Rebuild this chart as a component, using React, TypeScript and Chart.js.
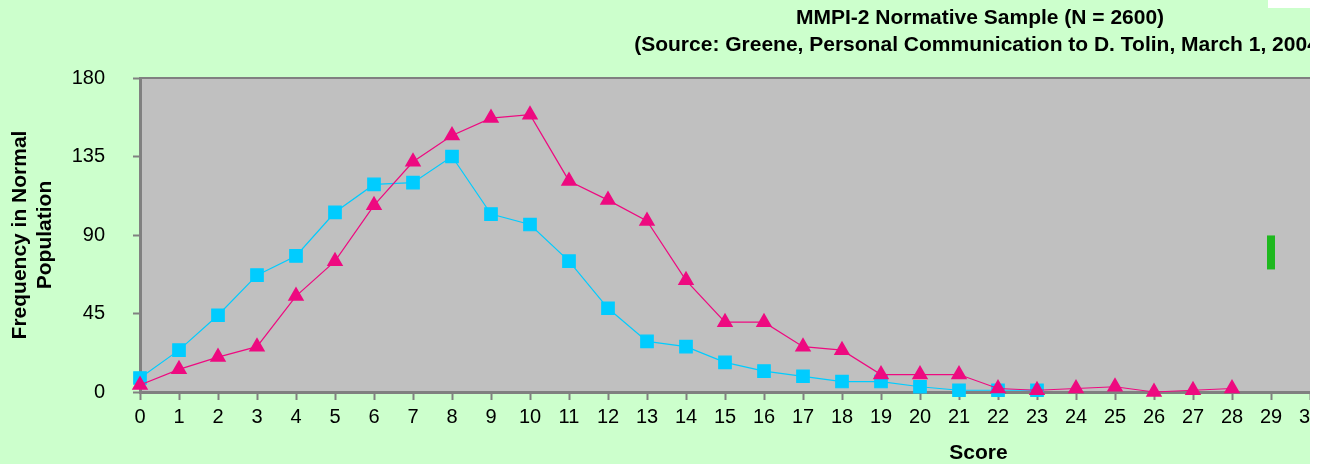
import React, { useEffect, useRef } from "react";
import { Chart, registerables } from "chart.js";

Chart.register(...registerables);

// ---- Data ----
const MEN_SCORES = [0, 1, 2, 3, 4, 5, 6, 7, 8, 9, 10, 11, 12, 13, 14, 15, 16, 17, 18, 19, 20, 21, 22, 23];
const MEN_FREQ = [8, 24, 44, 67, 78, 103, 119, 120, 135, 102, 96, 75, 48, 29, 26, 17, 12, 9, 6, 6, 3, 1, 1, 1];

const WOMEN_SCORES = [0, 1, 2, 3, 4, 5, 6, 7, 8, 9, 10, 11, 12, 13, 14, 15, 16, 17, 18, 19, 20, 21, 22, 23, 24, 25, 26, 27, 28];
const WOMEN_FREQ = [4, 13, 20, 26, 55, 75, 107, 132, 147, 157, 159, 121, 110, 98, 64, 40, 40, 26, 24, 10, 10, 10, 2, 1, 2, 3, 0, 1, 2];

const MARKER_SCORES = [29];
const MARKER_VALUES = [80];

const TITLE_LINES = [
  "MMPI-2 Normative Sample (N = 2600)",
  "(Source: Greene, Personal Communication to D. Tolin, March 1, 2004)",
];
const Y_TITLE = ["Frequency in Normal", "Population"];
const X_TITLE = "Score";

const X_MIN = 0;
const X_MAX = 43;
const Y_MIN = 0;
const Y_MAX = 180;
const Y_STEP = 45;

const FONT = "'Liberation Sans', Arial, Helvetica, sans-serif";
const AXIS_GRAY = "#808080";

const plotBackground = {
  id: "plotBackground",
  beforeDraw(chart: any) {
    const { ctx, chartArea: a } = chart;
    ctx.save();
    ctx.fillStyle = "#C0C0C0";
    ctx.fillRect(a.left, a.top, a.right - a.left, a.bottom - a.top);
    ctx.restore();
  },
  beforeDatasetsDraw(chart: any) {
    const { ctx, chartArea: a } = chart;
    ctx.save();
    ctx.strokeStyle = AXIS_GRAY;
    ctx.lineWidth = 2;
    ctx.beginPath();
    ctx.moveTo(a.left, a.top);
    ctx.lineTo(a.right, a.top);
    ctx.stroke();
    ctx.restore();
  },
};

export default function App() {
  const canvasRef = useRef<HTMLCanvasElement | null>(null);

  useEffect(() => {
    const canvas = canvasRef.current;
    if (!canvas) return;

    const men = MEN_SCORES.map((s, i) => ({ x: s, y: MEN_FREQ[i] }));
    const women = WOMEN_SCORES.map((s, i) => ({ x: s, y: WOMEN_FREQ[i] }));
    const marker = MARKER_SCORES.map((s, i) => ({ x: s, y: MARKER_VALUES[i] }));

    const chart = new Chart(canvas, {
      type: "line",
      data: {
        datasets: [
          {
            label: "Women",
            data: women,
            borderColor: "#EE0A80",
            backgroundColor: "#EE0A80",
            borderWidth: 1.2,
            pointStyle: "triangle",
            pointRadius: 7.5,
            pointBorderWidth: 2,
            pointBorderColor: "#EE0A80",
            pointBackgroundColor: "#EE0A80",
            tension: 0,
            clip: false as any,
          },
          {
            label: "Men",
            data: men,
            borderColor: "#00CCFF",
            backgroundColor: "#00CCFF",
            borderWidth: 1.2,
            pointStyle: "rect",
            pointRadius: 8.8,
            pointBorderWidth: 1.2,
            pointBorderColor: "#00CCFF",
            pointBackgroundColor: "#00CCFF",
            tension: 0,
            clip: false as any,
          },
          {
            label: "Marker",
            data: marker,
            showLine: false,
            borderColor: "#1EB81E",
            backgroundColor: "#1EB81E",
            pointStyle: "line",
            pointRotation: 90,
            pointRadius: 17,
            pointBorderWidth: 8,
            pointBorderColor: "#1EB81E",
            clip: false as any,
          },
        ],
      },
      options: {
        responsive: false,
        animation: false,
        devicePixelRatio: 1,
        layout: { padding: 0 },
        plugins: {
          legend: { display: false },
          tooltip: { enabled: false },
          title: {
            display: true,
            text: TITLE_LINES,
            color: "#000",
            font: { family: FONT, size: 21, weight: "bold", lineHeight: 27 / 21 },
            padding: { top: 5, bottom: 19 },
          },
        },
        scales: {
          x: {
            type: "linear",
            min: X_MIN,
            max: X_MAX,
            position: "bottom",
            afterFit: (scale: any) => {
              scale.height = 72;
            },
            ticks: {
              stepSize: 1,
              autoSkip: false,
              maxRotation: 0,
              color: "#000",
              padding: 5,
              font: { family: FONT, size: 20 },
            },
            grid: {
              drawOnChartArea: false,
              drawTicks: true,
              tickLength: 8,
              tickColor: AXIS_GRAY,
              tickWidth: 2,
            },
            border: { display: true, color: AXIS_GRAY, width: 3 },
            title: {
              display: true,
              text: X_TITLE,
              color: "#000",
              font: { family: FONT, size: 21, weight: "bold", lineHeight: 1 },
              padding: 0,
            },
          },
          y: {
            type: "linear",
            min: Y_MIN,
            max: Y_MAX,
            position: "left",
            afterFit: (scale: any) => {
              scale.width = 140;
            },
            ticks: {
              stepSize: Y_STEP,
              color: "#000",
              padding: 28,
              font: { family: FONT, size: 20 },
            },
            grid: {
              drawOnChartArea: false,
              drawTicks: true,
              tickLength: 7,
              tickColor: AXIS_GRAY,
              tickWidth: 2,
            },
            border: { display: true, color: AXIS_GRAY, width: 3 },
            title: {
              display: true,
              text: Y_TITLE,
              color: "#000",
              font: { family: FONT, size: 21, weight: "bold", lineHeight: 25 / 21 },
              padding: { top: 8, bottom: 0 },
            },
          },
          yRight: {
            type: "linear",
            position: "right",
            display: true,
            afterFit: (scale: any) => {
              scale.width = 143;
            },
            ticks: { display: false },
            grid: { display: false, drawTicks: false },
            border: { display: false },
          },
        },
      },
      plugins: [plotBackground],
    } as any);

    return () => {
      chart.destroy();
    };
  }, []);

  return (
    <div
      style={{
        position: "absolute",
        left: 0,
        top: 0,
        width: 1322,
        height: 464,
        overflow: "hidden",
        background: "#FFFFFF",
      }}
    >
      <div
        style={{
          position: "absolute",
          left: 0,
          top: 0,
          width: 1310,
          height: 464,
          overflow: "hidden",
          background: "#CCFFCC",
        }}
      >
        <canvas ref={canvasRef} width={1960} height={464} style={{ display: "block" }} />
      </div>
      <div
        style={{
          position: "absolute",
          left: 1268,
          top: 0,
          width: 54,
          height: 8,
          background: "#FFFFFF",
        }}
      />
    </div>
  );
}
